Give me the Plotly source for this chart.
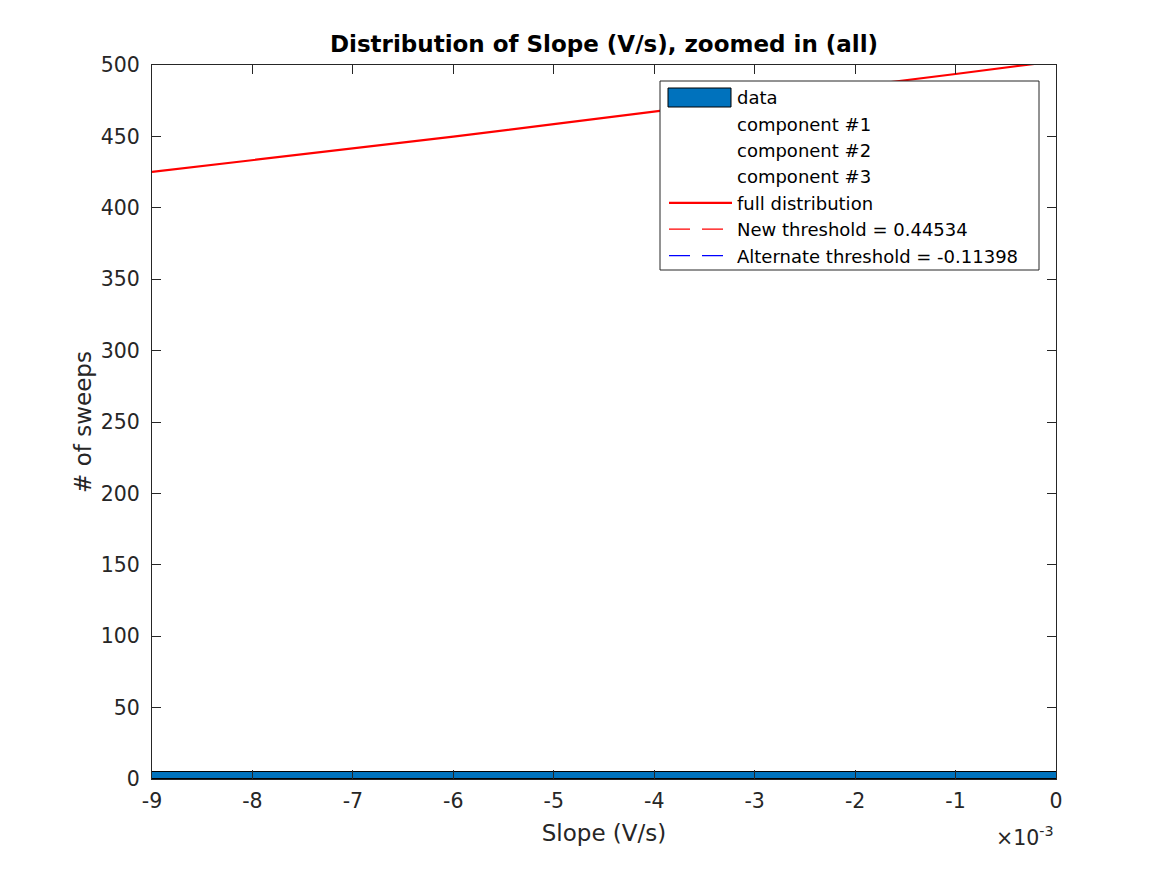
import plotly.graph_objects as go

# ---- data ----
bin_centers = [-0.005]          # histogram bin (wider than the zoomed view)
bin_widths = [0.03]
bin_counts = [5]

fit_x = [-0.009, -0.008, -0.007, -0.006, -0.005, -0.004, -0.003, -0.002, -0.001, 0.0]
fit_full = [425.1, 433.3, 441.6, 449.9, 458.6, 467.3, 476.0, 484.8, 493.7, 502.7]

new_threshold = 0.44534
alt_threshold = -0.11398

x_tickvals = [-0.009, -0.008, -0.007, -0.006, -0.005, -0.004, -0.003, -0.002, -0.001, 0.0]
x_ticktext = ["-9", "-8", "-7", "-6", "-5", "-4", "-3", "-2", "-1", "0"]
y_tickvals = [0, 50, 100, 150, 200, 250, 300, 350, 400, 450, 500]

legend_names = ["data", "component #1", "component #2", "component #3",
                "full distribution",
                "New threshold = 0.44534", "Alternate threshold = -0.11398"]

TXT = "#262626"
FONT = "DejaVu Sans"

fig = go.Figure()

# histogram bar (its legend symbol is drawn as a shape)
fig.add_trace(go.Bar(x=bin_centers, y=bin_counts, width=bin_widths,
                     marker=dict(color="#0072BD", line=dict(color="black", width=1)),
                     showlegend=False, hoverinfo="skip"))
# legend entry for data (symbol drawn by shape)
fig.add_trace(go.Scatter(x=[None], y=[None], mode="lines", name=legend_names[0],
                         line=dict(color="rgba(0,0,0,0)", width=0)))
for nm in legend_names[1:4]:
    fig.add_trace(go.Scatter(x=[None], y=[None], mode="lines", name=nm,
                             line=dict(color="rgba(0,0,0,0)", width=0)))
fig.add_trace(go.Scatter(x=fit_x, y=fit_full, mode="lines", name=legend_names[4],
                         line=dict(color="#FF0000", width=2.2)))
fig.add_trace(go.Scatter(x=[new_threshold, new_threshold], y=[0, 500], mode="lines",
                         name=legend_names[5],
                         line=dict(color="#FF0000", width=1.2, dash="21px,12px")))
fig.add_trace(go.Scatter(x=[alt_threshold, alt_threshold], y=[0, 500], mode="lines",
                         name=legend_names[6],
                         line=dict(color="#0000FF", width=1.2, dash="21px,12px")))

W, H = 1167, 875
L, R, T, B = 152, 1056, 65, 779


def px(xp):
    return (xp - L) / (R - L)


def py(yp):
    return (B - yp) / (B - T)


fig.update_layout(
    width=W, height=H,
    margin=dict(l=L, r=W - R, t=T, b=H - B, pad=0),
    paper_bgcolor="white", plot_bgcolor="white",
    font=dict(family=FONT, color=TXT, size=20.5),
    title=dict(text="<b>Distribution of Slope (V/s), zoomed in (all)</b>",
               x=0.5, xref="paper", xanchor="center",
               y=1 - 44 / H, yref="container", yanchor="middle",
               font=dict(family=FONT, size=23, color="black")),
    xaxis=dict(range=[-0.009, 0], tickvals=x_tickvals, ticktext=x_ticktext,
               ticks="inside", ticklen=9, tickwidth=1, tickcolor=TXT,
               showline=True, linecolor=TXT, linewidth=1, mirror="ticks",
               showgrid=False, zeroline=False, ticklabelstandoff=3,
               tickfont=dict(size=20.5, color=TXT),
               title=dict(text="Slope (V/s)", font=dict(size=23, color=TXT), standoff=13)),
    yaxis=dict(range=[0, 500], tickvals=y_tickvals,
               ticks="inside", ticklen=9, tickwidth=1, tickcolor=TXT,
               showline=True, linecolor=TXT, linewidth=1, mirror="ticks",
               showgrid=False, zeroline=False, ticklabelstandoff=7,
               tickfont=dict(size=20.5, color=TXT),
               title=dict(text="# of sweeps", font=dict(size=23, color=TXT), standoff=2)),
    legend=dict(x=px(664), y=py(79), xanchor="left", yanchor="top",
                bgcolor="rgba(0,0,0,0)", borderwidth=0,
                font=dict(family=FONT, size=18, color="black"),
                itemwidth=63, tracegroupgap=0),
    showlegend=True,
    bargap=0,
)

# legend box background + border
fig.add_shape(type="rect", xref="paper", yref="paper",
              x0=px(660), x1=px(1039), y0=py(270), y1=py(81),
              fillcolor="white", line=dict(color=TXT, width=1), layer="above")
# legend symbol for the histogram
fig.add_shape(type="rect", xref="paper", yref="paper",
              x0=px(668), x1=px(731), y0=py(107), y1=py(88),
              fillcolor="#0072BD", line=dict(color="black", width=1), layer="above")

# exponent label
fig.add_annotation(text="×10<sup>-3</sup>", xref="paper", yref="paper",
                   x=1.0, y=py(836), xanchor="right", yanchor="middle",
                   showarrow=False, font=dict(size=20.5, color=TXT))

fig.write_html("out.html")
